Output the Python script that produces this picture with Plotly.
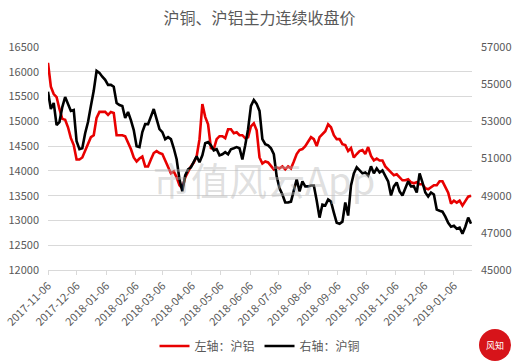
import pandas as pd
import plotly.graph_objects as go

# Sampling dates (every 3 calendar days)
dates = pd.date_range("2017-11-06", periods=149, freq="3D")

# 沪铝 (left axis)
al = [16180, 15700, 15550, 15490, 15250, 15050, 15030, 14880, 14660, 14520,
      14230, 14230, 14270, 14420, 14540, 14680, 14720, 15070, 15190, 15190,
      15190, 15130, 15190, 15170, 14720, 14720, 14720, 14700, 14580, 14440,
      14270, 14190, 14250, 14290, 14090, 14090, 14230, 14360, 14400, 14360,
      14340, 14210, 14070, 13950, 13990, 13870, 13710, 13650, 13870, 13990,
      14090, 14170, 14290, 14640, 15350, 15090, 14940, 14460, 14440, 14640,
      14700, 14700, 14660, 14840, 14840, 14760, 14780, 14720, 14720, 14660,
      14680, 14900, 14960, 14820, 14270, 14150, 14190, 14170, 14110, 14030,
      14070, 14050, 14090, 14030, 14090, 14050, 14190, 14340, 14420, 14440,
      14500, 14580, 14680, 14640, 14500, 14680, 14740, 14800, 14940, 14880,
      14720, 14640, 14640, 14540, 14520, 14400, 14460, 14270, 14340, 14400,
      14420, 14340, 14480, 14300, 14210, 14250, 14210, 14210, 14090, 14030,
      13950, 13910, 13930, 13870, 13810, 13810, 13830, 13770, 13750, 13770,
      13730, 13730, 13650, 13630, 13670, 13710, 13710, 13790, 13790, 13670,
      13560, 13340, 13400, 13360, 13400, 13300, 13380, 13480, 13500]

# 沪铜 (right axis)
cu = [54590, 53660, 53990, 52800, 52960, 53770, 54310, 53940, 53560, 53610,
      51930, 51500, 51550, 52360, 52960, 53830, 54640, 55720, 55610, 55400,
      55230, 54960, 54960, 54860, 53990, 53880, 53830, 53180, 53500, 53070,
      52530, 51660, 51610, 52420, 52850, 52850, 53230, 53660, 53120, 52580,
      52420, 52040, 52150, 52040, 51550, 50960, 49880, 49230, 50090, 50420,
      50520, 50800, 51120, 50800, 51170, 51820, 51880, 51710, 51440, 51500,
      51170, 51230, 51340, 51230, 51500, 51550, 51610, 51550, 50950, 51710,
      52580, 53830, 54150, 53940, 53560, 52040, 51770, 51710, 51550, 51230,
      50040, 49390, 49060, 48630, 48630, 48680, 49330, 49880, 49230, 49770,
      49500, 49500, 49550, 49550, 48740, 47820, 48520, 48470, 48790, 48680,
      48090, 47540, 47490, 47600, 48630, 47930, 49550, 50200, 50530, 50360,
      50200, 50250, 50090, 50580, 50200, 50470, 50250, 50360, 50090, 49770,
      49010, 49500, 49710, 49230, 49010, 49390, 49770, 49500, 49500, 49170,
      50200, 49710, 49170, 48950, 49170, 49060, 48250, 48190, 48140, 47870,
      47540, 47330, 47380, 47220, 47280, 46950, 47330, 47820, 47490]

tick_dates = ["2017-11-06", "2017-12-06", "2018-01-06", "2018-02-06", "2018-03-06",
              "2018-04-06", "2018-05-06", "2018-06-06", "2018-07-06", "2018-08-06",
              "2018-09-06", "2018-10-06", "2018-11-06", "2018-12-06", "2019-01-06"]

FONT = "Noto Sans CJK SC"
GREY = "#595959"

fig = go.Figure()
fig.add_trace(go.Scatter(x=dates, y=al, name="左轴：沪铝", mode="lines",
                         line=dict(color="#e80000", width=2.6), yaxis="y"))
fig.add_trace(go.Scatter(x=dates, y=cu, name="右轴：沪铜", mode="lines",
                         line=dict(color="#000000", width=2.6), yaxis="y2"))

fig.update_layout(
    width=519, height=364,
    margin=dict(l=48, r=47, t=47, b=94, autoexpand=False),
    paper_bgcolor="white", plot_bgcolor="white",
    font=dict(family=FONT, color=GREY, size=11),
    title=dict(text="沪铜、沪铝主力连续收盘价", x=0.5, xanchor="center",
               y=0.95, yanchor="middle", font=dict(size=16, color=GREY, family=FONT)),
    showlegend=True,
    legend=dict(orientation="h", x=0.5, xanchor="center",
                yref="container", y=1 - 346 / 364, yanchor="middle",
                font=dict(size=12, color=GREY, family=FONT), itemwidth=30,
                bgcolor="rgba(0,0,0,0)"),
    xaxis=dict(type="date", range=["2017-11-06", "2019-01-25"],
               tickvals=tick_dates, ticktext=tick_dates, tickangle=-45,
               showgrid=False, showline=True, linecolor="#d9d9d9", linewidth=1,
               ticks="outside", ticklen=4, tickcolor="#d9d9d9",
               tickfont=dict(size=11, color=GREY, family=FONT), zeroline=False,
               automargin=False),
    yaxis=dict(range=[12000, 16500], dtick=500, tick0=12000, tickformat="d",
               showgrid=True, gridcolor="#d9d9d9",
               gridwidth=1, zeroline=False, showline=False, automargin=False,
               tickfont=dict(size=11, color=GREY, family=FONT), ticks="", ticklabelstandoff=8),
    yaxis2=dict(range=[45000, 57000], dtick=2000, tick0=45000, tickformat="d",
                overlaying="y", side="right", automargin=False,
                showgrid=False, zeroline=False, showline=False,
                tickfont=dict(size=11, color=GREY, family=FONT), ticks="", ticklabelstandoff=8),
)

# watermark
fig.add_annotation(text="市值风云App", xref="paper", yref="paper", x=0.51, y=0.41,
                   xanchor="center", yanchor="middle",
                   showarrow=False, font=dict(size=38, color="rgba(185,185,185,0.45)", family=FONT))

# logo: red disc with white text
fig.add_shape(type="circle", xref="paper", yref="paper", layer="above",
              x0=(479 - 48) / 424, x1=(511 - 48) / 424,
              y0=(270 - 361) / 223, y1=(270 - 329) / 223,
              fillcolor="#d7141a", line=dict(width=0))
fig.add_annotation(text="风知", xref="paper", yref="paper",
                   x=(495 - 48) / 424, y=(270 - 345) / 223,
                   xanchor="center", yanchor="middle", showarrow=False,
                   font=dict(size=9, color="white", family=FONT))

fig.write_html("out.html")
